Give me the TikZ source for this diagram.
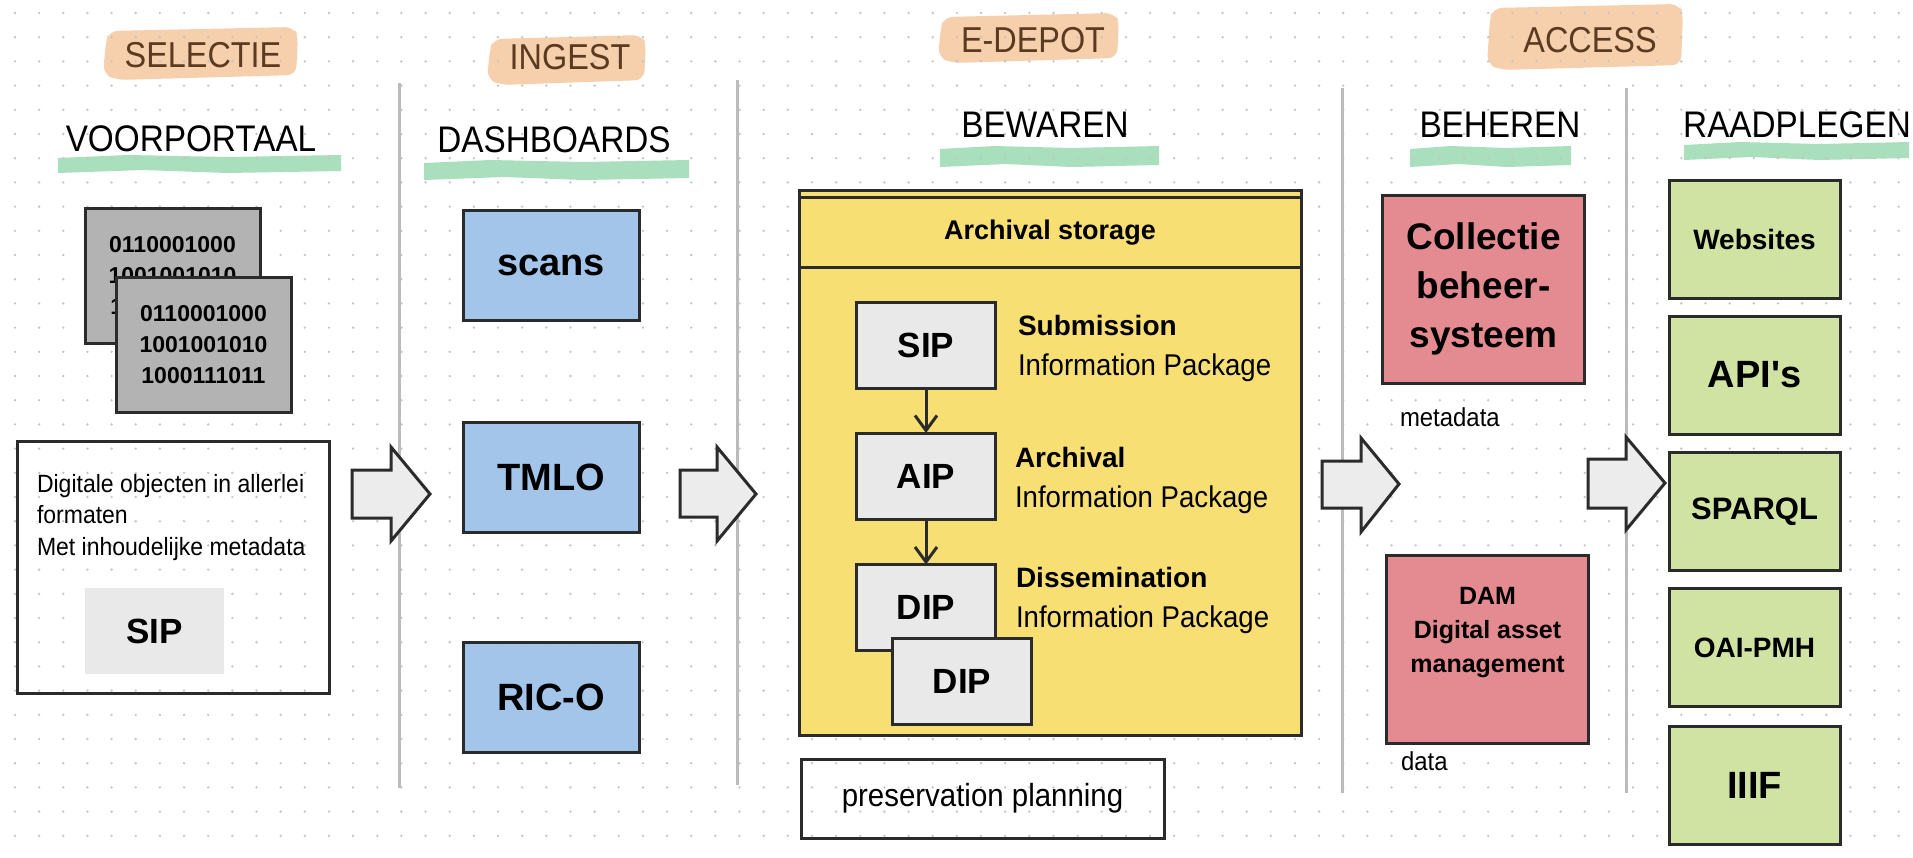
\documentclass[tikz,border=0pt]{standalone}
\usepackage{fontspec}
\setmainfont{Liberation Sans}
\newfontfamily\headfont[FakeStretch=0.9]{Liberation Sans}
\newfontfamily\bodyfont[FakeStretch=0.92]{Liberation Sans}
\newfontfamily\aposfont[Ligatures=TeXOff]{Liberation Sans}
\usetikzlibrary{arrows.meta}
\definecolor{hlorange}{HTML}{F6CFAD}
\definecolor{hlgreen}{HTML}{A9DFBD}
\definecolor{headbrown}{HTML}{5A3A20}
\definecolor{edge}{HTML}{2B2B2B}
\definecolor{divgray}{HTML}{BBBBBB}
\definecolor{dotgray}{HTML}{C4C4C4}
\definecolor{binfill}{HTML}{B3B3B3}
\definecolor{pkgfill}{HTML}{E9E9E9}
\definecolor{bluefill}{HTML}{A3C5EA}
\definecolor{yellowfill}{HTML}{F8DF74}
\definecolor{pinkfill}{HTML}{E38B91}
\definecolor{greenfill}{HTML}{D1E3A3}
\definecolor{arrowfill}{HTML}{ECECEC}
\newcommand\fsz[2]{\fontsize{#1}{#2}\selectfont}
\newcommand\hblob[4]{\fill[hlorange, rounded corners=9pt] (#1+6,#2+4) -- (#3-4,#2) -- (#3,#2+9) -- (#3-2,#4-5) -- (#1+14,#4) -- (#1,#4-6) -- (#1+3,#2+14) -- cycle;}
\newcommand\ublob[4]{\fill[hlgreen] (#1,#2+3) -- ({#1+0.25*(#3-#1)},#2) -- ({#1+0.6*(#3-#1)},#2+2) -- (#3,#2) -- (#3,#4-2) -- ({#1+0.6*(#3-#1)},#4) -- ({#1+0.3*(#3-#1)},#4-3) -- (#1,#4) -- cycle;}
\begin{document}
\begin{tikzpicture}[x=1pt, y=-1pt,
  every node/.style={inner sep=0pt, outer sep=0pt},
  box/.style={draw=edge, line width=3pt},
  binbox/.style={box, fill=binfill, minimum width=175, minimum height=135, align=center, font=\fsz{23}{31}\bfseries},
  bluebox/.style={box, fill=bluefill, minimum width=176, minimum height=110, font=\fsz{38}{45}\bfseries},
  pkgbox/.style={box, fill=pkgfill, minimum width=139, minimum height=86, font=\fsz{35}{42}\bfseries},
  pinkbox/.style={box, fill=pinkfill, minimum width=202, minimum height=188},
  greenbox/.style={box, fill=greenfill, minimum width=171, minimum height=118},
  headlbl/.style={font=\headfont\fsz{36}{43}, text=headbrown},
  sublbl/.style={font=\headfont\fsz{37}{44}, text=black},
  plain/.style={anchor=base west, font=\bodyfont\fsz{25}{30}},
  infob/.style={anchor=base west, font=\fsz{28}{34}\bfseries},
  infor/.style={anchor=base west, font=\bodyfont\fsz{30}{34}},
  blockarrow/.style={draw=edge, line width=3pt, fill=arrowfill, line join=miter},
  divider/.style={draw=divgray, line width=3pt},
  flow/.style={draw=edge, line width=3pt, -{Straight Barb[length=15pt, width=22pt, line width=3pt]}}
]
\useasboundingbox[fill=white] (0,0) rectangle (1913,857);

% highlights
\hblob{103}{27}{298}{80}
\hblob{487}{35}{646}{85}
\hblob{938}{13}{1119}{63}
\hblob{1487}{4}{1683}{70}
\ublob{58}{155}{341}{173}
\ublob{424}{160}{689}{180}
\ublob{940}{146}{1159}{167}
\ublob{1410}{146}{1571}{167}
\ublob{1684}{142}{1909}{160}

% dot grid
\fill[dotgray] \foreach \i in {0,...,78} { \foreach \j in {0,...,34} { (15+24.15*\i, 13+24.2*\j) circle (1.3pt) } };

% headings
\node[headlbl] (selectie) at (203,55) {SELECTIE};
\node[headlbl] (ingest) at (570,57) {INGEST};
\node[headlbl] (edepot) at (1033,40) {E-DEPOT};
\node[headlbl] (access) at (1590,40) {ACCESS};
\node[sublbl] (voorportaal) at (191,139) {VOORPORTAAL};
\node[sublbl] (dashboards) at (554,140) {DASHBOARDS};
\node[sublbl] (bewaren) at (1045,125) {BEWAREN};
\node[sublbl] (beheren) at (1500,125) {BEHEREN};
\node[sublbl] (raadplegen) at (1797,125) {RAADPLEGEN};

% dividers
\draw[divider] (399,83) -- (399,788);
\draw[divider] (737,80) -- (737,785);
\draw[divider] (1342,88) -- (1342,793);
\draw[divider] (1626,88) -- (1626,793);

% voorportaal
\node[binbox] (bin1) at (172.5,275.5) {0110001000\\1001001010\\1000111011};
\node[binbox] (bin2) at (203.5,345) {0110001000\\1001001010\\1000111011};
\node[box, minimum width=312, minimum height=252] (objbox) at (173,567) {};
\node[plain] (obj1) at (37,492) {Digitale objecten in allerlei};
\node[plain] (obj2) at (37,523) {formaten};
\node[plain] (obj3) at (37,555) {Met inhoudelijke metadata};
\node[fill=pkgfill, minimum width=139, minimum height=86, font=\fsz{35}{42}\bfseries] (sip1) at (154.5,631) {SIP};

% dashboards
\node[bluebox] (scans) at (551,265) {scans};
\node[bluebox] (tmlo) at (551,477) {TMLO};
\node[bluebox] (rico) at (551,697) {RIC-O};

% e-depot
\node[box, fill=yellowfill, minimum width=502, minimum height=545] (archive) at (1050,462.5) {};
\draw[edge, line width=3pt] ([yshift=-7pt]archive.north west) -- ([yshift=-7pt]archive.north east);
\draw[edge, line width=3pt] ([yshift=-77pt]archive.north west) -- ([yshift=-77pt]archive.north east);
\node[font=\fsz{27}{32}\bfseries] (astitle) at (1050,233) {Archival storage};
\node[pkgbox] (sip2) at (926,345) {SIP};
\node[pkgbox] (aip) at (926,476) {AIP};
\node[pkgbox] (dip1) at (926,607.5) {DIP};
\node[pkgbox] (dip2) at (962,681) {DIP};
\draw[flow] (sip2.south) -- (aip.north);
\draw[flow] (aip.south) -- (dip1.north);
\node[infob] (sipt) at (1018,335) {Submission};
\node[infor] (sipd) at (1018,375) {Information Package};
\node[infob] (aipt) at (1015,467) {Archival};
\node[infor] (aipd) at (1015,507) {Information Package};
\node[infob] (dipt) at (1016,587) {Dissemination};
\node[infor] (dipd) at (1016,627) {Information Package};
\node[box, minimum width=363, minimum height=79, font=\bodyfont\fsz{32}{36}] (pres) at (982.5,798.5) {preservation planning};

% beheren
\node[pinkbox, align=center, font=\fsz{37}{49}\bfseries] (cbs) at (1483.5,289) {Collectie\\beheer-\\systeem};
\node[anchor=base west, font=\bodyfont\fsz{26}{29}] (metalbl) at (1400,426) {metadata};
\node[pinkbox] (dam) at (1487.5,649) {};
\node[align=center, font=\fsz{25}{34}\bfseries] (damt) at (1487.5,633) {DAM\\Digital asset\\management};
\node[anchor=base west, font=\bodyfont\fsz{26}{29}] (datalbl) at (1401,770) {data};

% raadplegen
\node[greenbox, font=\fsz{28}{34}\bfseries] (web) at (1754.5,239) {Websites};
\node[greenbox, font=\aposfont\fsz{38}{45}\bfseries] (api) at (1754.5,375) {API's};
\node[greenbox, font=\fsz{31}{37}\bfseries] (sparql) at (1754.5,511.5) {SPARQL};
\node[greenbox, font=\fsz{28}{34}\bfseries] (oai) at (1754.5,647.5) {OAI-PMH};
\node[greenbox, font=\fsz{38}{45}\bfseries] (iiif) at (1754.5,785.5) {IIIF};

% block arrows
\draw[blockarrow] (352,470) -- (391,470) -- (391,447) -- (430,494) -- (391,541) -- (391,518) -- (352,518) -- cycle;
\draw[blockarrow] (680,470) -- (717,470) -- (717,447) -- (756,494) -- (717,541) -- (717,517) -- (680,517) -- cycle;
\draw[blockarrow] (1322,461) -- (1361,461) -- (1361,438) -- (1399,484) -- (1361,532) -- (1361,508) -- (1322,508) -- cycle;
\draw[blockarrow] (1588,459) -- (1626,459) -- (1626,437) -- (1665,483) -- (1626,530) -- (1626,508) -- (1588,508) -- cycle;
\end{tikzpicture}
\end{document}
